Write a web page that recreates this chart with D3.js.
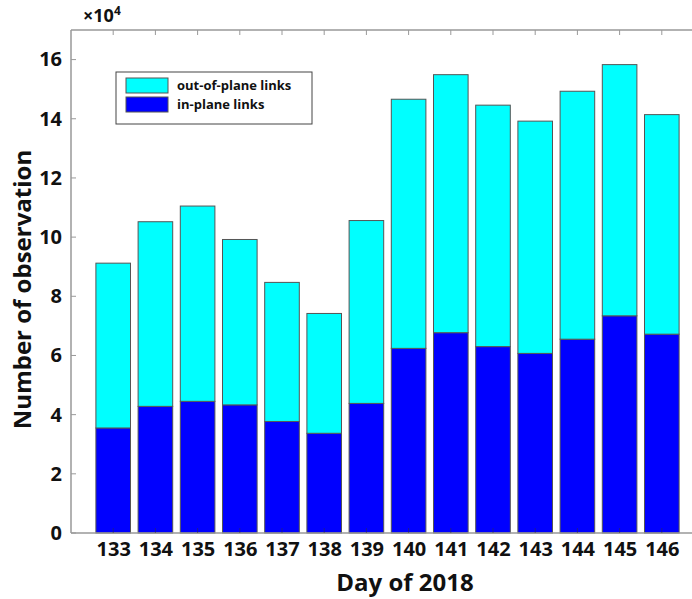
<!DOCTYPE html>
<html>
<head>
<meta charset="utf-8">
<script src="https://cdn.jsdelivr.net/npm/d3@7"></script>
<style>
  body { margin: 0; background: #fff; }
  text { font-family: "Open Sans", "DejaVu Sans", sans-serif; font-weight: bold; fill: #111; }
</style>
</head>
<body>
<div id="chart"></div>
<script>
// data (x 10^4)
const days = ["133", "134", "135", "136", "137", "138", "139", "140", "141", "142", "143", "144", "145", "146"];
const inPlane = [3.55, 4.28, 4.45, 4.33, 3.77, 3.37, 4.38, 6.24, 6.77, 6.30, 6.07, 6.55, 7.34, 6.72];
const outPlane = [5.57, 6.24, 6.60, 5.59, 4.70, 4.05, 6.18, 8.42, 8.72, 8.16, 7.85, 8.38, 8.49, 7.42];
const yTicks = [0, 2, 4, 6, 8, 10, 12, 14, 16];
const seriesNames = ["out-of-plane links", "in-plane links"];

const width = 692, height = 599;
const margin = {top: 30, left: 71, bottom: 66};
const step = 42.2;

const svg = d3.select("#chart").append("svg")
    .attr("width", width)
    .attr("height", height);

// x positions: numeric day axis, limits one step beyond first/last day
const x = d3.scaleLinear()
    .domain([132, 147])
    .range([margin.left, margin.left + step * 15]);

const y = d3.scaleLinear()
    .domain([0, 17])
    .range([height - margin.bottom, margin.top]);

const barW = step * 0.82;
const color = d3.scaleOrdinal().domain(seriesNames).range(["#00ffff", "#0000ff"]);

const plot = svg.append("g");

// bars
const rows = days.map((d, i) => ({day: +d, inP: inPlane[i], outP: outPlane[i]}));

plot.selectAll("rect.inp")
    .data(rows)
    .enter()
    .append("rect")
    .attr("class", "inp")
    .attr("x", d => x(d.day) - barW / 2)
    .attr("y", d => y(d.inP))
    .attr("width", barW)
    .attr("height", d => y(0) - y(d.inP))
    .attr("fill", color("in-plane links"))
    .attr("stroke", "#555")
    .attr("stroke-width", 1);

plot.selectAll("rect.outp")
    .data(rows)
    .enter()
    .append("rect")
    .attr("class", "outp")
    .attr("x", d => x(d.day) - barW / 2)
    .attr("y", d => y(d.inP + d.outP))
    .attr("width", barW)
    .attr("height", d => y(d.inP) - y(d.inP + d.outP))
    .attr("fill", color("out-of-plane links"))
    .attr("stroke", "#555")
    .attr("stroke-width", 1);

// axes
const axisColor = "#999";

const yAxis = svg.append("g")
    .attr("transform", `translate(${margin.left},0)`)
    .call(d3.axisLeft(y).tickValues(yTicks).tickSize(0).tickPadding(9));
yAxis.select(".domain").remove();
yAxis.selectAll("text").style("font-size", "20px");

const xAxis = svg.append("g")
    .attr("transform", `translate(0,${y(0)})`)
    .call(d3.axisBottom(x).tickValues(days.map(Number)).tickFormat(d3.format("d")).tickSize(0).tickPadding(9));
xAxis.select(".domain").remove();
xAxis.selectAll("text").style("font-size", "20px").attr("dy", "0.71em");

// box lines
svg.append("line")
    .attr("x1", margin.left).attr("x2", margin.left)
    .attr("y1", y(17)).attr("y2", y(0))
    .attr("stroke", axisColor).attr("stroke-width", 1.5);
svg.append("line")
    .attr("x1", margin.left).attr("x2", width)
    .attr("y1", y(0)).attr("y2", y(0))
    .attr("stroke", axisColor).attr("stroke-width", 1.5);
svg.append("line")
    .attr("x1", margin.left).attr("x2", width)
    .attr("y1", y(17)).attr("y2", y(17))
    .attr("stroke", axisColor).attr("stroke-width", 1.5);

// inward ticks
svg.append("g").selectAll("line")
    .data(yTicks)
    .enter()
    .append("line")
    .attr("x1", margin.left).attr("x2", margin.left + 5)
    .attr("y1", d => y(d)).attr("y2", d => y(d))
    .attr("stroke", axisColor);
svg.append("g").selectAll("line")
    .data(days.map(Number))
    .enter()
    .append("line")
    .attr("x1", d => x(d)).attr("x2", d => x(d))
    .attr("y1", y(17)).attr("y2", y(17) + 5)
    .attr("stroke", axisColor);
svg.append("g").selectAll("line")
    .data(days.map(Number))
    .enter()
    .append("line")
    .attr("x1", d => x(d)).attr("x2", d => x(d))
    .attr("y1", y(0)).attr("y2", y(0) - 5)
    .attr("stroke", "#333")
    .attr("stroke-opacity", 0.5);

// exponent label
const expo = svg.append("text")
    .attr("x", 83)
    .attr("y", 22)
    .style("font-size", "18px");
expo.append("tspan").text("×10");
expo.append("tspan").attr("dy", -7).style("font-size", "12px").text("4");

// axis titles
svg.append("text")
    .attr("transform", `translate(31,${(y(0) + y(17)) / 2 + 8}) rotate(-90)`)
    .attr("text-anchor", "middle")
    .style("font-size", "24px")
    .text("Number of observation");

svg.append("text")
    .attr("x", 405)
    .attr("y", 591)
    .attr("text-anchor", "middle")
    .style("font-size", "24px")
    .text("Day of 2018");

// legend
const legend = svg.append("g").attr("transform", "translate(116,72)");
legend.append("rect")
    .attr("width", 196).attr("height", 52)
    .attr("fill", "#fff").attr("stroke", "#444").attr("stroke-width", 1);
const items = legend.selectAll("g.item")
    .data(seriesNames)
    .enter()
    .append("g")
    .attr("class", "item")
    .attr("transform", (d, i) => `translate(10,${6 + i * 19})`);
items.append("rect")
    .attr("width", 42).attr("height", 15)
    .attr("fill", d => color(d))
    .attr("stroke", "#555");
items.append("text")
    .attr("x", 51).attr("y", 12)
    .style("font-size", "13px")
    .text(d => d);
</script>
</body>
</html>
